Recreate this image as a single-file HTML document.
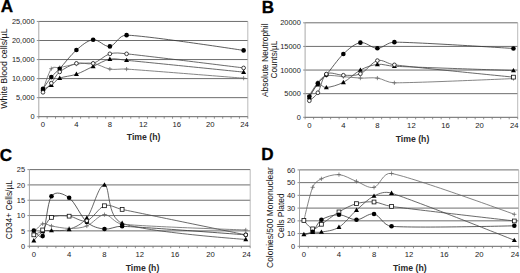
<!DOCTYPE html>
<html><head><meta charset="utf-8"><style>
html,body{margin:0;padding:0;background:#fff;width:520px;height:273px;overflow:hidden}
svg{display:block;font-family:"Liberation Sans", sans-serif}
</style></head><body>
<svg width="520" height="273" viewBox="0 0 520 273">
<rect width="520" height="273" fill="#fff"/>
<line x1="38.80" y1="97.65" x2="247.80" y2="97.65" stroke="#6e6e6e" stroke-width="1"/>
<line x1="38.80" y1="78.60" x2="247.80" y2="78.60" stroke="#6e6e6e" stroke-width="1"/>
<line x1="38.80" y1="59.55" x2="247.80" y2="59.55" stroke="#6e6e6e" stroke-width="1"/>
<line x1="38.80" y1="40.50" x2="247.80" y2="40.50" stroke="#6e6e6e" stroke-width="1"/>
<line x1="38.80" y1="21.45" x2="247.80" y2="21.45" stroke="#6e6e6e" stroke-width="1"/>
<line x1="247.80" y1="21.45" x2="247.80" y2="116.70" stroke="#aaa" stroke-width="0.8"/>
<line x1="38.80" y1="21.45" x2="38.80" y2="116.70" stroke="#a8a8a8" stroke-width="1"/>
<line x1="36.80" y1="116.70" x2="38.80" y2="116.70" stroke="#777" stroke-width="0.8"/>
<text x="34.50" y="119.35" text-anchor="end" font-size="7.4" fill="#1a1a1a">0</text>
<line x1="36.80" y1="97.65" x2="38.80" y2="97.65" stroke="#777" stroke-width="0.8"/>
<text x="34.50" y="100.30" text-anchor="end" font-size="7.4" fill="#1a1a1a">5,000</text>
<line x1="36.80" y1="78.60" x2="38.80" y2="78.60" stroke="#777" stroke-width="0.8"/>
<text x="34.50" y="81.25" text-anchor="end" font-size="7.4" fill="#1a1a1a">10,000</text>
<line x1="36.80" y1="59.55" x2="38.80" y2="59.55" stroke="#777" stroke-width="0.8"/>
<text x="34.50" y="62.20" text-anchor="end" font-size="7.4" fill="#1a1a1a">15,000</text>
<line x1="36.80" y1="40.50" x2="38.80" y2="40.50" stroke="#777" stroke-width="0.8"/>
<text x="34.50" y="43.15" text-anchor="end" font-size="7.4" fill="#1a1a1a">20,000</text>
<line x1="36.80" y1="21.45" x2="38.80" y2="21.45" stroke="#777" stroke-width="0.8"/>
<text x="34.50" y="24.10" text-anchor="end" font-size="7.4" fill="#1a1a1a">25,000</text>
<line x1="38.80" y1="116.70" x2="247.80" y2="116.70" stroke="#666" stroke-width="1"/>
<line x1="38.80" y1="116.70" x2="38.80" y2="118.70" stroke="#777" stroke-width="0.8"/>
<line x1="47.16" y1="116.70" x2="47.16" y2="118.70" stroke="#777" stroke-width="0.8"/>
<line x1="55.52" y1="116.70" x2="55.52" y2="118.70" stroke="#777" stroke-width="0.8"/>
<line x1="63.88" y1="116.70" x2="63.88" y2="118.70" stroke="#777" stroke-width="0.8"/>
<line x1="72.24" y1="116.70" x2="72.24" y2="118.70" stroke="#777" stroke-width="0.8"/>
<line x1="80.60" y1="116.70" x2="80.60" y2="118.70" stroke="#777" stroke-width="0.8"/>
<line x1="88.96" y1="116.70" x2="88.96" y2="118.70" stroke="#777" stroke-width="0.8"/>
<line x1="97.32" y1="116.70" x2="97.32" y2="118.70" stroke="#777" stroke-width="0.8"/>
<line x1="105.68" y1="116.70" x2="105.68" y2="118.70" stroke="#777" stroke-width="0.8"/>
<line x1="114.04" y1="116.70" x2="114.04" y2="118.70" stroke="#777" stroke-width="0.8"/>
<line x1="122.40" y1="116.70" x2="122.40" y2="118.70" stroke="#777" stroke-width="0.8"/>
<line x1="130.76" y1="116.70" x2="130.76" y2="118.70" stroke="#777" stroke-width="0.8"/>
<line x1="139.12" y1="116.70" x2="139.12" y2="118.70" stroke="#777" stroke-width="0.8"/>
<line x1="147.48" y1="116.70" x2="147.48" y2="118.70" stroke="#777" stroke-width="0.8"/>
<line x1="155.84" y1="116.70" x2="155.84" y2="118.70" stroke="#777" stroke-width="0.8"/>
<line x1="164.20" y1="116.70" x2="164.20" y2="118.70" stroke="#777" stroke-width="0.8"/>
<line x1="172.56" y1="116.70" x2="172.56" y2="118.70" stroke="#777" stroke-width="0.8"/>
<line x1="180.92" y1="116.70" x2="180.92" y2="118.70" stroke="#777" stroke-width="0.8"/>
<line x1="189.28" y1="116.70" x2="189.28" y2="118.70" stroke="#777" stroke-width="0.8"/>
<line x1="197.64" y1="116.70" x2="197.64" y2="118.70" stroke="#777" stroke-width="0.8"/>
<line x1="206.00" y1="116.70" x2="206.00" y2="118.70" stroke="#777" stroke-width="0.8"/>
<line x1="214.36" y1="116.70" x2="214.36" y2="118.70" stroke="#777" stroke-width="0.8"/>
<line x1="222.72" y1="116.70" x2="222.72" y2="118.70" stroke="#777" stroke-width="0.8"/>
<line x1="231.08" y1="116.70" x2="231.08" y2="118.70" stroke="#777" stroke-width="0.8"/>
<line x1="239.44" y1="116.70" x2="239.44" y2="118.70" stroke="#777" stroke-width="0.8"/>
<line x1="247.80" y1="116.70" x2="247.80" y2="118.70" stroke="#777" stroke-width="0.8"/>
<text x="42.98" y="127.20" text-anchor="middle" font-size="7.7" fill="#1a1a1a">0</text>
<text x="76.42" y="127.20" text-anchor="middle" font-size="7.7" fill="#1a1a1a">4</text>
<text x="109.86" y="127.20" text-anchor="middle" font-size="7.7" fill="#1a1a1a">8</text>
<text x="143.30" y="127.20" text-anchor="middle" font-size="7.7" fill="#1a1a1a">12</text>
<text x="176.74" y="127.20" text-anchor="middle" font-size="7.7" fill="#1a1a1a">16</text>
<text x="210.18" y="127.20" text-anchor="middle" font-size="7.7" fill="#1a1a1a">20</text>
<text x="244.42" y="127.20" text-anchor="middle" font-size="7.7" fill="#1a1a1a">24</text>
<path d="M42.98,88.89 C42.98,88.89 48.55,80.44 51.34,77.08 C54.13,73.71 56.48,72.17 59.70,68.69 C63.88,64.19 70.85,54.85 76.42,50.03 C81.99,45.20 87.57,40.34 93.14,39.74 C98.71,39.13 104.29,47.17 109.86,46.41 C115.43,45.64 118.52,34.93 126.58,35.17 C148.87,35.83 243.62,50.41 243.62,50.41" fill="none" stroke="#333" stroke-width="0.8"/>
<path d="M42.98,92.32 C42.98,92.32 48.55,86.57 51.34,83.17 C54.13,79.77 55.52,75.23 59.70,71.93 C63.88,68.63 70.85,64.79 76.42,63.36 C81.99,61.93 87.57,64.95 93.14,63.36 C98.71,61.77 104.29,55.42 109.86,53.84 C115.43,52.25 119.93,53.13 126.58,53.84 C148.87,56.18 243.62,67.93 243.62,67.93" fill="none" stroke="#444" stroke-width="0.8"/>
<path d="M42.98,89.27 C42.98,89.27 48.55,86.92 51.34,85.08 C54.13,83.24 55.73,79.94 59.70,78.22 C63.88,76.41 70.85,76.19 76.42,74.22 C81.99,72.25 87.57,68.92 93.14,66.41 C98.71,63.90 104.29,60.19 109.86,59.17 C115.43,58.15 119.91,59.67 126.58,60.31 C148.87,62.47 243.62,72.12 243.62,72.12" fill="none" stroke="#444" stroke-width="0.8"/>
<path d="M42.98,90.03 C42.98,90.03 48.55,72.44 51.34,68.69 C53.35,65.99 56.38,68.16 59.70,67.55 C63.88,66.79 70.85,64.82 76.42,64.12 C81.99,63.42 87.57,62.53 93.14,63.36 C98.71,64.19 104.29,68.12 109.86,69.08 C115.43,70.03 119.91,68.62 126.58,69.08 C148.87,70.60 243.62,78.22 243.62,78.22" fill="none" stroke="#666" stroke-width="0.8"/>
<path d="M40.88,90.03 H45.08 M42.98,87.93 V92.13" stroke="#666" stroke-width="0.75"/>
<path d="M49.24,68.69 H53.44 M51.34,66.59 V70.79" stroke="#666" stroke-width="0.75"/>
<path d="M57.60,67.55 H61.80 M59.70,65.45 V69.65" stroke="#666" stroke-width="0.75"/>
<path d="M74.32,64.12 H78.52 M76.42,62.02 V66.22" stroke="#666" stroke-width="0.75"/>
<path d="M91.04,63.36 H95.24 M93.14,61.26 V65.46" stroke="#666" stroke-width="0.75"/>
<path d="M107.76,69.08 H111.96 M109.86,66.98 V71.17" stroke="#666" stroke-width="0.75"/>
<path d="M124.48,69.08 H128.68 M126.58,66.98 V71.17" stroke="#666" stroke-width="0.75"/>
<path d="M241.52,78.22 H245.72 M243.62,76.12 V80.32" stroke="#666" stroke-width="0.75"/>
<path d="M42.98,86.67 L45.48,91.07 L40.48,91.07 Z" fill="#000"/>
<path d="M51.34,82.48 L53.84,86.88 L48.84,86.88 Z" fill="#000"/>
<path d="M59.70,75.62 L62.20,80.02 L57.20,80.02 Z" fill="#000"/>
<path d="M76.42,71.62 L78.92,76.02 L73.92,76.02 Z" fill="#000"/>
<path d="M93.14,63.81 L95.64,68.21 L90.64,68.21 Z" fill="#000"/>
<path d="M109.86,56.57 L112.36,60.97 L107.36,60.97 Z" fill="#000"/>
<path d="M126.58,57.71 L129.08,62.11 L124.08,62.11 Z" fill="#000"/>
<path d="M243.62,69.52 L246.12,73.92 L241.12,73.92 Z" fill="#000"/>
<circle cx="42.98" cy="88.89" r="2.3" fill="#000"/>
<circle cx="51.34" cy="77.08" r="2.3" fill="#000"/>
<circle cx="59.70" cy="68.69" r="2.3" fill="#000"/>
<circle cx="76.42" cy="50.03" r="2.3" fill="#000"/>
<circle cx="93.14" cy="39.74" r="2.3" fill="#000"/>
<circle cx="109.86" cy="46.41" r="2.3" fill="#000"/>
<circle cx="126.58" cy="35.17" r="2.3" fill="#000"/>
<circle cx="243.62" cy="50.41" r="2.3" fill="#000"/>
<circle cx="42.98" cy="92.32" r="1.85" fill="#fff" stroke="#111" stroke-width="0.8"/>
<circle cx="51.34" cy="83.17" r="1.85" fill="#fff" stroke="#111" stroke-width="0.8"/>
<circle cx="59.70" cy="71.93" r="1.85" fill="#fff" stroke="#111" stroke-width="0.8"/>
<circle cx="76.42" cy="63.36" r="1.85" fill="#fff" stroke="#111" stroke-width="0.8"/>
<circle cx="93.14" cy="63.36" r="1.85" fill="#fff" stroke="#111" stroke-width="0.8"/>
<circle cx="109.86" cy="53.84" r="1.85" fill="#fff" stroke="#111" stroke-width="0.8"/>
<circle cx="126.58" cy="53.84" r="1.85" fill="#fff" stroke="#111" stroke-width="0.8"/>
<circle cx="243.62" cy="67.93" r="1.85" fill="#fff" stroke="#111" stroke-width="0.8"/>
<line x1="305.10" y1="93.67" x2="517.70" y2="93.67" stroke="#6e6e6e" stroke-width="1"/>
<line x1="305.10" y1="70.05" x2="517.70" y2="70.05" stroke="#6e6e6e" stroke-width="1"/>
<line x1="305.10" y1="46.42" x2="517.70" y2="46.42" stroke="#6e6e6e" stroke-width="1"/>
<line x1="305.10" y1="22.80" x2="517.70" y2="22.80" stroke="#6e6e6e" stroke-width="1"/>
<line x1="517.70" y1="22.80" x2="517.70" y2="117.30" stroke="#aaa" stroke-width="0.8"/>
<line x1="305.10" y1="22.80" x2="305.10" y2="117.30" stroke="#a8a8a8" stroke-width="1"/>
<line x1="303.10" y1="117.30" x2="305.10" y2="117.30" stroke="#777" stroke-width="0.8"/>
<text x="300.80" y="119.95" text-anchor="end" font-size="7.4" fill="#1a1a1a">0</text>
<line x1="303.10" y1="93.67" x2="305.10" y2="93.67" stroke="#777" stroke-width="0.8"/>
<text x="300.80" y="96.33" text-anchor="end" font-size="7.4" fill="#1a1a1a">5000</text>
<line x1="303.10" y1="70.05" x2="305.10" y2="70.05" stroke="#777" stroke-width="0.8"/>
<text x="300.80" y="72.70" text-anchor="end" font-size="7.4" fill="#1a1a1a">10000</text>
<line x1="303.10" y1="46.42" x2="305.10" y2="46.42" stroke="#777" stroke-width="0.8"/>
<text x="300.80" y="49.07" text-anchor="end" font-size="7.4" fill="#1a1a1a">15000</text>
<line x1="303.10" y1="22.80" x2="305.10" y2="22.80" stroke="#777" stroke-width="0.8"/>
<text x="300.80" y="25.45" text-anchor="end" font-size="7.4" fill="#1a1a1a">20000</text>
<line x1="305.10" y1="117.30" x2="517.70" y2="117.30" stroke="#666" stroke-width="1"/>
<line x1="305.10" y1="117.30" x2="305.10" y2="119.30" stroke="#777" stroke-width="0.8"/>
<line x1="313.60" y1="117.30" x2="313.60" y2="119.30" stroke="#777" stroke-width="0.8"/>
<line x1="322.11" y1="117.30" x2="322.11" y2="119.30" stroke="#777" stroke-width="0.8"/>
<line x1="330.61" y1="117.30" x2="330.61" y2="119.30" stroke="#777" stroke-width="0.8"/>
<line x1="339.12" y1="117.30" x2="339.12" y2="119.30" stroke="#777" stroke-width="0.8"/>
<line x1="347.62" y1="117.30" x2="347.62" y2="119.30" stroke="#777" stroke-width="0.8"/>
<line x1="356.12" y1="117.30" x2="356.12" y2="119.30" stroke="#777" stroke-width="0.8"/>
<line x1="364.63" y1="117.30" x2="364.63" y2="119.30" stroke="#777" stroke-width="0.8"/>
<line x1="373.13" y1="117.30" x2="373.13" y2="119.30" stroke="#777" stroke-width="0.8"/>
<line x1="381.64" y1="117.30" x2="381.64" y2="119.30" stroke="#777" stroke-width="0.8"/>
<line x1="390.14" y1="117.30" x2="390.14" y2="119.30" stroke="#777" stroke-width="0.8"/>
<line x1="398.64" y1="117.30" x2="398.64" y2="119.30" stroke="#777" stroke-width="0.8"/>
<line x1="407.15" y1="117.30" x2="407.15" y2="119.30" stroke="#777" stroke-width="0.8"/>
<line x1="415.65" y1="117.30" x2="415.65" y2="119.30" stroke="#777" stroke-width="0.8"/>
<line x1="424.16" y1="117.30" x2="424.16" y2="119.30" stroke="#777" stroke-width="0.8"/>
<line x1="432.66" y1="117.30" x2="432.66" y2="119.30" stroke="#777" stroke-width="0.8"/>
<line x1="441.16" y1="117.30" x2="441.16" y2="119.30" stroke="#777" stroke-width="0.8"/>
<line x1="449.67" y1="117.30" x2="449.67" y2="119.30" stroke="#777" stroke-width="0.8"/>
<line x1="458.17" y1="117.30" x2="458.17" y2="119.30" stroke="#777" stroke-width="0.8"/>
<line x1="466.68" y1="117.30" x2="466.68" y2="119.30" stroke="#777" stroke-width="0.8"/>
<line x1="475.18" y1="117.30" x2="475.18" y2="119.30" stroke="#777" stroke-width="0.8"/>
<line x1="483.68" y1="117.30" x2="483.68" y2="119.30" stroke="#777" stroke-width="0.8"/>
<line x1="492.19" y1="117.30" x2="492.19" y2="119.30" stroke="#777" stroke-width="0.8"/>
<line x1="500.69" y1="117.30" x2="500.69" y2="119.30" stroke="#777" stroke-width="0.8"/>
<line x1="509.20" y1="117.30" x2="509.20" y2="119.30" stroke="#777" stroke-width="0.8"/>
<line x1="517.70" y1="117.30" x2="517.70" y2="119.30" stroke="#777" stroke-width="0.8"/>
<text x="309.35" y="127.80" text-anchor="middle" font-size="7.7" fill="#1a1a1a">0</text>
<text x="343.37" y="127.80" text-anchor="middle" font-size="7.7" fill="#1a1a1a">4</text>
<text x="377.38" y="127.80" text-anchor="middle" font-size="7.7" fill="#1a1a1a">8</text>
<text x="411.40" y="127.80" text-anchor="middle" font-size="7.7" fill="#1a1a1a">12</text>
<text x="445.42" y="127.80" text-anchor="middle" font-size="7.7" fill="#1a1a1a">16</text>
<text x="479.43" y="127.80" text-anchor="middle" font-size="7.7" fill="#1a1a1a">20</text>
<text x="514.25" y="127.80" text-anchor="middle" font-size="7.7" fill="#1a1a1a">24</text>
<path d="M309.35,96.51 C309.35,96.51 315.02,86.90 317.86,83.28 C320.69,79.66 323.20,78.40 326.36,74.78 C330.61,69.89 337.70,59.34 343.37,53.98 C349.04,48.63 354.71,43.59 360.38,42.64 C366.05,41.70 371.71,48.39 377.38,48.31 C383.05,48.24 387.16,42.16 394.39,42.17 C417.07,42.20 513.45,48.50 513.45,48.50" fill="none" stroke="#333" stroke-width="0.8"/>
<path d="M309.35,100.76 C309.35,100.76 315.34,96.68 317.86,92.73 C320.69,88.28 322.11,76.98 326.36,74.07 C330.61,71.15 337.70,75.29 343.37,75.25 C349.04,75.21 354.71,76.27 360.38,73.83 C366.05,71.39 371.71,62.10 377.38,60.60 C383.05,59.10 387.43,64.01 394.39,64.85 C417.07,67.61 513.45,77.14 513.45,77.14" fill="none" stroke="#444" stroke-width="0.8"/>
<path d="M309.35,97.45 C309.35,97.45 315.02,86.35 317.86,84.70 C320.69,83.04 322.79,87.86 326.36,87.53 C330.61,87.14 337.70,85.25 343.37,82.33 C349.04,79.42 354.71,73.04 360.38,70.05 C366.05,67.06 371.71,65.01 377.38,64.38 C383.05,63.75 387.55,65.96 394.39,66.27 C417.07,67.29 513.45,70.52 513.45,70.52" fill="none" stroke="#444" stroke-width="0.8"/>
<path d="M309.35,95.56 C309.35,95.56 315.02,85.64 317.86,82.33 C320.66,79.06 322.15,76.65 326.36,75.72 C330.61,74.78 337.70,76.27 343.37,76.66 C349.04,77.06 354.71,77.85 360.38,78.08 C366.05,78.32 371.71,77.30 377.38,78.08 C383.05,78.87 387.33,82.78 394.39,82.81 C417.07,82.89 513.45,78.56 513.45,78.56" fill="none" stroke="#666" stroke-width="0.8"/>
<path d="M307.25,95.56 H311.45 M309.35,93.47 V97.66" stroke="#666" stroke-width="0.75"/>
<path d="M315.76,82.33 H319.96 M317.86,80.23 V84.43" stroke="#666" stroke-width="0.75"/>
<path d="M324.26,75.72 H328.46 M326.36,73.62 V77.82" stroke="#666" stroke-width="0.75"/>
<path d="M341.27,76.66 H345.47 M343.37,74.56 V78.76" stroke="#666" stroke-width="0.75"/>
<path d="M358.28,78.08 H362.48 M360.38,75.98 V80.18" stroke="#666" stroke-width="0.75"/>
<path d="M375.28,78.08 H379.48 M377.38,75.98 V80.18" stroke="#666" stroke-width="0.75"/>
<path d="M392.29,82.81 H396.49 M394.39,80.71 V84.91" stroke="#666" stroke-width="0.75"/>
<path d="M511.35,78.56 H515.55 M513.45,76.46 V80.66" stroke="#666" stroke-width="0.75"/>
<path d="M309.35,94.86 L311.85,99.25 L306.85,99.25 Z" fill="#000"/>
<path d="M317.86,82.10 L320.36,86.50 L315.36,86.50 Z" fill="#000"/>
<path d="M326.36,84.93 L328.86,89.33 L323.86,89.33 Z" fill="#000"/>
<path d="M343.37,79.73 L345.87,84.13 L340.87,84.13 Z" fill="#000"/>
<path d="M360.38,67.45 L362.88,71.85 L357.88,71.85 Z" fill="#000"/>
<path d="M377.38,61.78 L379.88,66.18 L374.88,66.18 Z" fill="#000"/>
<path d="M394.39,63.67 L396.89,68.07 L391.89,68.07 Z" fill="#000"/>
<path d="M513.45,67.92 L515.95,72.32 L510.95,72.32 Z" fill="#000"/>
<circle cx="309.35" cy="96.51" r="2.3" fill="#000"/>
<circle cx="317.86" cy="83.28" r="2.3" fill="#000"/>
<circle cx="326.36" cy="74.78" r="2.3" fill="#000"/>
<circle cx="343.37" cy="53.98" r="2.3" fill="#000"/>
<circle cx="360.38" cy="42.64" r="2.3" fill="#000"/>
<circle cx="377.38" cy="48.31" r="2.3" fill="#000"/>
<circle cx="394.39" cy="42.17" r="2.3" fill="#000"/>
<circle cx="513.45" cy="48.50" r="2.3" fill="#000"/>
<circle cx="309.35" cy="100.76" r="1.85" fill="#fff" stroke="#111" stroke-width="0.8"/>
<circle cx="317.86" cy="92.73" r="1.85" fill="#fff" stroke="#111" stroke-width="0.8"/>
<circle cx="326.36" cy="74.07" r="1.85" fill="#fff" stroke="#111" stroke-width="0.8"/>
<circle cx="343.37" cy="75.25" r="1.85" fill="#fff" stroke="#111" stroke-width="0.8"/>
<circle cx="360.38" cy="73.83" r="1.85" fill="#fff" stroke="#111" stroke-width="0.8"/>
<circle cx="377.38" cy="60.60" r="1.85" fill="#fff" stroke="#111" stroke-width="0.8"/>
<circle cx="394.39" cy="64.85" r="1.85" fill="#fff" stroke="#111" stroke-width="0.8"/>
<rect x="511.55" y="75.24" width="3.8" height="3.8" fill="#fff" stroke="#111" stroke-width="0.8"/>
<line x1="29.40" y1="230.88" x2="250.20" y2="230.88" stroke="#6e6e6e" stroke-width="1"/>
<line x1="29.40" y1="215.56" x2="250.20" y2="215.56" stroke="#6e6e6e" stroke-width="1"/>
<line x1="29.40" y1="200.24" x2="250.20" y2="200.24" stroke="#6e6e6e" stroke-width="1"/>
<line x1="29.40" y1="184.92" x2="250.20" y2="184.92" stroke="#6e6e6e" stroke-width="1"/>
<line x1="29.40" y1="169.60" x2="250.20" y2="169.60" stroke="#6e6e6e" stroke-width="1"/>
<line x1="250.20" y1="169.60" x2="250.20" y2="246.20" stroke="#aaa" stroke-width="0.8"/>
<line x1="29.40" y1="169.60" x2="29.40" y2="246.20" stroke="#a8a8a8" stroke-width="1"/>
<line x1="27.40" y1="246.20" x2="29.40" y2="246.20" stroke="#777" stroke-width="0.8"/>
<text x="25.10" y="248.85" text-anchor="end" font-size="7.4" fill="#1a1a1a">0</text>
<line x1="27.40" y1="230.88" x2="29.40" y2="230.88" stroke="#777" stroke-width="0.8"/>
<text x="25.10" y="233.53" text-anchor="end" font-size="7.4" fill="#1a1a1a">5</text>
<line x1="27.40" y1="215.56" x2="29.40" y2="215.56" stroke="#777" stroke-width="0.8"/>
<text x="25.10" y="218.21" text-anchor="end" font-size="7.4" fill="#1a1a1a">10</text>
<line x1="27.40" y1="200.24" x2="29.40" y2="200.24" stroke="#777" stroke-width="0.8"/>
<text x="25.10" y="202.89" text-anchor="end" font-size="7.4" fill="#1a1a1a">15</text>
<line x1="27.40" y1="184.92" x2="29.40" y2="184.92" stroke="#777" stroke-width="0.8"/>
<text x="25.10" y="187.57" text-anchor="end" font-size="7.4" fill="#1a1a1a">20</text>
<line x1="27.40" y1="169.60" x2="29.40" y2="169.60" stroke="#777" stroke-width="0.8"/>
<text x="25.10" y="172.25" text-anchor="end" font-size="7.4" fill="#1a1a1a">25</text>
<line x1="29.40" y1="246.20" x2="250.20" y2="246.20" stroke="#666" stroke-width="1"/>
<line x1="29.40" y1="246.20" x2="29.40" y2="248.20" stroke="#777" stroke-width="0.8"/>
<line x1="38.23" y1="246.20" x2="38.23" y2="248.20" stroke="#777" stroke-width="0.8"/>
<line x1="47.06" y1="246.20" x2="47.06" y2="248.20" stroke="#777" stroke-width="0.8"/>
<line x1="55.90" y1="246.20" x2="55.90" y2="248.20" stroke="#777" stroke-width="0.8"/>
<line x1="64.73" y1="246.20" x2="64.73" y2="248.20" stroke="#777" stroke-width="0.8"/>
<line x1="73.56" y1="246.20" x2="73.56" y2="248.20" stroke="#777" stroke-width="0.8"/>
<line x1="82.39" y1="246.20" x2="82.39" y2="248.20" stroke="#777" stroke-width="0.8"/>
<line x1="91.22" y1="246.20" x2="91.22" y2="248.20" stroke="#777" stroke-width="0.8"/>
<line x1="100.06" y1="246.20" x2="100.06" y2="248.20" stroke="#777" stroke-width="0.8"/>
<line x1="108.89" y1="246.20" x2="108.89" y2="248.20" stroke="#777" stroke-width="0.8"/>
<line x1="117.72" y1="246.20" x2="117.72" y2="248.20" stroke="#777" stroke-width="0.8"/>
<line x1="126.55" y1="246.20" x2="126.55" y2="248.20" stroke="#777" stroke-width="0.8"/>
<line x1="135.38" y1="246.20" x2="135.38" y2="248.20" stroke="#777" stroke-width="0.8"/>
<line x1="144.22" y1="246.20" x2="144.22" y2="248.20" stroke="#777" stroke-width="0.8"/>
<line x1="153.05" y1="246.20" x2="153.05" y2="248.20" stroke="#777" stroke-width="0.8"/>
<line x1="161.88" y1="246.20" x2="161.88" y2="248.20" stroke="#777" stroke-width="0.8"/>
<line x1="170.71" y1="246.20" x2="170.71" y2="248.20" stroke="#777" stroke-width="0.8"/>
<line x1="179.54" y1="246.20" x2="179.54" y2="248.20" stroke="#777" stroke-width="0.8"/>
<line x1="188.38" y1="246.20" x2="188.38" y2="248.20" stroke="#777" stroke-width="0.8"/>
<line x1="197.21" y1="246.20" x2="197.21" y2="248.20" stroke="#777" stroke-width="0.8"/>
<line x1="206.04" y1="246.20" x2="206.04" y2="248.20" stroke="#777" stroke-width="0.8"/>
<line x1="214.87" y1="246.20" x2="214.87" y2="248.20" stroke="#777" stroke-width="0.8"/>
<line x1="223.70" y1="246.20" x2="223.70" y2="248.20" stroke="#777" stroke-width="0.8"/>
<line x1="232.54" y1="246.20" x2="232.54" y2="248.20" stroke="#777" stroke-width="0.8"/>
<line x1="241.37" y1="246.20" x2="241.37" y2="248.20" stroke="#777" stroke-width="0.8"/>
<line x1="250.20" y1="246.20" x2="250.20" y2="248.20" stroke="#777" stroke-width="0.8"/>
<text x="33.82" y="256.70" text-anchor="middle" font-size="7.7" fill="#1a1a1a">0</text>
<text x="69.14" y="256.70" text-anchor="middle" font-size="7.7" fill="#1a1a1a">4</text>
<text x="104.47" y="256.70" text-anchor="middle" font-size="7.7" fill="#1a1a1a">8</text>
<text x="139.80" y="256.70" text-anchor="middle" font-size="7.7" fill="#1a1a1a">12</text>
<text x="175.13" y="256.70" text-anchor="middle" font-size="7.7" fill="#1a1a1a">16</text>
<text x="210.46" y="256.70" text-anchor="middle" font-size="7.7" fill="#1a1a1a">20</text>
<text x="246.58" y="256.70" text-anchor="middle" font-size="7.7" fill="#1a1a1a">24</text>
<path d="M33.82,230.57 C33.82,230.57 40.74,239.79 42.65,236.09 C45.59,230.37 47.06,202.64 51.48,196.26 C55.51,190.42 63.41,193.61 69.14,197.79 C75.03,202.08 80.92,216.79 86.81,221.99 C92.51,227.03 98.58,228.33 104.47,229.04 C110.36,229.76 114.99,225.99 122.14,226.28 C145.69,227.25 245.78,234.86 245.78,234.86" fill="none" stroke="#333" stroke-width="0.8"/>
<path d="M33.82,234.86 C33.82,234.86 39.77,232.80 42.65,229.96 C45.59,227.05 47.06,219.70 51.48,217.40 C55.90,215.10 63.26,215.61 69.14,216.17 C75.03,216.73 80.92,222.51 86.81,220.77 C92.70,219.03 98.58,207.64 104.47,205.76 C110.36,203.87 115.07,207.98 122.14,209.43 C145.69,214.28 245.78,234.86 245.78,234.86" fill="none" stroke="#444" stroke-width="0.8"/>
<path d="M33.82,240.68 C33.82,240.68 39.70,233.18 42.65,231.49 C45.59,229.81 47.94,230.86 51.48,230.57 C55.90,230.22 63.26,231.44 69.14,229.35 C75.03,227.25 81.58,224.58 86.81,218.01 C92.70,210.61 98.58,184.05 104.47,184.92 C110.36,185.79 106.40,217.15 122.14,223.22 C145.69,232.31 245.78,239.46 245.78,239.46" fill="none" stroke="#444" stroke-width="0.8"/>
<path d="M33.82,232.41 C33.82,232.41 39.70,224.91 42.65,223.83 C45.59,222.76 47.90,225.36 51.48,225.98 C55.90,226.74 63.26,228.43 69.14,228.43 C75.03,228.43 80.92,228.28 86.81,225.98 C92.70,223.68 98.58,214.95 104.47,214.64 C110.36,214.33 114.16,223.27 122.14,224.14 C145.69,226.69 245.78,229.96 245.78,229.96" fill="none" stroke="#666" stroke-width="0.8"/>
<path d="M31.72,232.41 H35.92 M33.82,230.31 V234.51" stroke="#666" stroke-width="0.75"/>
<path d="M40.55,223.83 H44.75 M42.65,221.73 V225.93" stroke="#666" stroke-width="0.75"/>
<path d="M49.38,225.98 H53.58 M51.48,223.88 V228.08" stroke="#666" stroke-width="0.75"/>
<path d="M67.04,228.43 H71.24 M69.14,226.33 V230.53" stroke="#666" stroke-width="0.75"/>
<path d="M84.71,225.98 H88.91 M86.81,223.88 V228.08" stroke="#666" stroke-width="0.75"/>
<path d="M102.37,214.64 H106.57 M104.47,212.54 V216.74" stroke="#666" stroke-width="0.75"/>
<path d="M120.04,224.14 H124.24 M122.14,222.04 V226.24" stroke="#666" stroke-width="0.75"/>
<path d="M243.68,229.96 H247.88 M245.78,227.86 V232.06" stroke="#666" stroke-width="0.75"/>
<path d="M33.82,238.08 L36.32,242.48 L31.32,242.48 Z" fill="#000"/>
<path d="M42.65,228.89 L45.15,233.29 L40.15,233.29 Z" fill="#000"/>
<path d="M51.48,227.97 L53.98,232.37 L48.98,232.37 Z" fill="#000"/>
<path d="M69.14,226.75 L71.64,231.15 L66.64,231.15 Z" fill="#000"/>
<path d="M86.81,215.41 L89.31,219.81 L84.31,219.81 Z" fill="#000"/>
<path d="M104.47,182.32 L106.97,186.72 L101.97,186.72 Z" fill="#000"/>
<path d="M122.14,220.62 L124.64,225.02 L119.64,225.02 Z" fill="#000"/>
<path d="M245.78,236.86 L248.28,241.26 L243.28,241.26 Z" fill="#000"/>
<circle cx="33.82" cy="230.57" r="2.3" fill="#000"/>
<circle cx="42.65" cy="236.09" r="2.3" fill="#000"/>
<circle cx="51.48" cy="196.26" r="2.3" fill="#000"/>
<circle cx="69.14" cy="197.79" r="2.3" fill="#000"/>
<circle cx="86.81" cy="221.99" r="2.3" fill="#000"/>
<circle cx="104.47" cy="229.04" r="2.3" fill="#000"/>
<circle cx="122.14" cy="226.28" r="2.3" fill="#000"/>
<circle cx="245.78" cy="234.86" r="2.3" fill="#000"/>
<rect x="31.92" y="232.96" width="3.8" height="3.8" fill="#fff" stroke="#111" stroke-width="0.8"/>
<rect x="40.75" y="228.06" width="3.8" height="3.8" fill="#fff" stroke="#111" stroke-width="0.8"/>
<rect x="49.58" y="215.50" width="3.8" height="3.8" fill="#fff" stroke="#111" stroke-width="0.8"/>
<rect x="67.24" y="214.27" width="3.8" height="3.8" fill="#fff" stroke="#111" stroke-width="0.8"/>
<circle cx="86.81" cy="220.77" r="1.85" fill="#fff" stroke="#111" stroke-width="0.8"/>
<rect x="102.57" y="203.86" width="3.8" height="3.8" fill="#fff" stroke="#111" stroke-width="0.8"/>
<rect x="120.24" y="207.53" width="3.8" height="3.8" fill="#fff" stroke="#111" stroke-width="0.8"/>
<circle cx="245.78" cy="234.86" r="1.85" fill="#fff" stroke="#111" stroke-width="0.8"/>
<line x1="299.50" y1="233.57" x2="518.70" y2="233.57" stroke="#6e6e6e" stroke-width="1"/>
<line x1="299.50" y1="220.83" x2="518.70" y2="220.83" stroke="#6e6e6e" stroke-width="1"/>
<line x1="299.50" y1="208.10" x2="518.70" y2="208.10" stroke="#6e6e6e" stroke-width="1"/>
<line x1="299.50" y1="195.37" x2="518.70" y2="195.37" stroke="#6e6e6e" stroke-width="1"/>
<line x1="299.50" y1="182.63" x2="518.70" y2="182.63" stroke="#6e6e6e" stroke-width="1"/>
<line x1="299.50" y1="169.90" x2="518.70" y2="169.90" stroke="#6e6e6e" stroke-width="1"/>
<line x1="518.70" y1="169.90" x2="518.70" y2="246.30" stroke="#aaa" stroke-width="0.8"/>
<line x1="299.50" y1="169.90" x2="299.50" y2="246.30" stroke="#a8a8a8" stroke-width="1"/>
<line x1="297.50" y1="246.30" x2="299.50" y2="246.30" stroke="#777" stroke-width="0.8"/>
<text x="295.20" y="248.95" text-anchor="end" font-size="7.4" fill="#1a1a1a">0</text>
<line x1="297.50" y1="233.57" x2="299.50" y2="233.57" stroke="#777" stroke-width="0.8"/>
<text x="295.20" y="236.22" text-anchor="end" font-size="7.4" fill="#1a1a1a">10</text>
<line x1="297.50" y1="220.83" x2="299.50" y2="220.83" stroke="#777" stroke-width="0.8"/>
<text x="295.20" y="223.48" text-anchor="end" font-size="7.4" fill="#1a1a1a">20</text>
<line x1="297.50" y1="208.10" x2="299.50" y2="208.10" stroke="#777" stroke-width="0.8"/>
<text x="295.20" y="210.75" text-anchor="end" font-size="7.4" fill="#1a1a1a">30</text>
<line x1="297.50" y1="195.37" x2="299.50" y2="195.37" stroke="#777" stroke-width="0.8"/>
<text x="295.20" y="198.02" text-anchor="end" font-size="7.4" fill="#1a1a1a">40</text>
<line x1="297.50" y1="182.63" x2="299.50" y2="182.63" stroke="#777" stroke-width="0.8"/>
<text x="295.20" y="185.28" text-anchor="end" font-size="7.4" fill="#1a1a1a">50</text>
<line x1="297.50" y1="169.90" x2="299.50" y2="169.90" stroke="#777" stroke-width="0.8"/>
<text x="295.20" y="172.55" text-anchor="end" font-size="7.4" fill="#1a1a1a">60</text>
<line x1="299.50" y1="246.30" x2="518.70" y2="246.30" stroke="#666" stroke-width="1"/>
<line x1="299.50" y1="246.30" x2="299.50" y2="248.30" stroke="#777" stroke-width="0.8"/>
<line x1="308.27" y1="246.30" x2="308.27" y2="248.30" stroke="#777" stroke-width="0.8"/>
<line x1="317.04" y1="246.30" x2="317.04" y2="248.30" stroke="#777" stroke-width="0.8"/>
<line x1="325.80" y1="246.30" x2="325.80" y2="248.30" stroke="#777" stroke-width="0.8"/>
<line x1="334.57" y1="246.30" x2="334.57" y2="248.30" stroke="#777" stroke-width="0.8"/>
<line x1="343.34" y1="246.30" x2="343.34" y2="248.30" stroke="#777" stroke-width="0.8"/>
<line x1="352.11" y1="246.30" x2="352.11" y2="248.30" stroke="#777" stroke-width="0.8"/>
<line x1="360.88" y1="246.30" x2="360.88" y2="248.30" stroke="#777" stroke-width="0.8"/>
<line x1="369.64" y1="246.30" x2="369.64" y2="248.30" stroke="#777" stroke-width="0.8"/>
<line x1="378.41" y1="246.30" x2="378.41" y2="248.30" stroke="#777" stroke-width="0.8"/>
<line x1="387.18" y1="246.30" x2="387.18" y2="248.30" stroke="#777" stroke-width="0.8"/>
<line x1="395.95" y1="246.30" x2="395.95" y2="248.30" stroke="#777" stroke-width="0.8"/>
<line x1="404.72" y1="246.30" x2="404.72" y2="248.30" stroke="#777" stroke-width="0.8"/>
<line x1="413.48" y1="246.30" x2="413.48" y2="248.30" stroke="#777" stroke-width="0.8"/>
<line x1="422.25" y1="246.30" x2="422.25" y2="248.30" stroke="#777" stroke-width="0.8"/>
<line x1="431.02" y1="246.30" x2="431.02" y2="248.30" stroke="#777" stroke-width="0.8"/>
<line x1="439.79" y1="246.30" x2="439.79" y2="248.30" stroke="#777" stroke-width="0.8"/>
<line x1="448.56" y1="246.30" x2="448.56" y2="248.30" stroke="#777" stroke-width="0.8"/>
<line x1="457.32" y1="246.30" x2="457.32" y2="248.30" stroke="#777" stroke-width="0.8"/>
<line x1="466.09" y1="246.30" x2="466.09" y2="248.30" stroke="#777" stroke-width="0.8"/>
<line x1="474.86" y1="246.30" x2="474.86" y2="248.30" stroke="#777" stroke-width="0.8"/>
<line x1="483.63" y1="246.30" x2="483.63" y2="248.30" stroke="#777" stroke-width="0.8"/>
<line x1="492.40" y1="246.30" x2="492.40" y2="248.30" stroke="#777" stroke-width="0.8"/>
<line x1="501.16" y1="246.30" x2="501.16" y2="248.30" stroke="#777" stroke-width="0.8"/>
<line x1="509.93" y1="246.30" x2="509.93" y2="248.30" stroke="#777" stroke-width="0.8"/>
<line x1="518.70" y1="246.30" x2="518.70" y2="248.30" stroke="#777" stroke-width="0.8"/>
<text x="303.88" y="256.80" text-anchor="middle" font-size="7.7" fill="#1a1a1a">0</text>
<text x="338.96" y="256.80" text-anchor="middle" font-size="7.7" fill="#1a1a1a">4</text>
<text x="374.03" y="256.80" text-anchor="middle" font-size="7.7" fill="#1a1a1a">8</text>
<text x="409.10" y="256.80" text-anchor="middle" font-size="7.7" fill="#1a1a1a">12</text>
<text x="444.17" y="256.80" text-anchor="middle" font-size="7.7" fill="#1a1a1a">16</text>
<text x="479.24" y="256.80" text-anchor="middle" font-size="7.7" fill="#1a1a1a">20</text>
<text x="515.12" y="256.80" text-anchor="middle" font-size="7.7" fill="#1a1a1a">24</text>
<path d="M303.88,234.46 C303.88,234.46 309.84,234.13 312.65,231.78 C315.57,229.34 317.04,222.66 321.42,219.81 C325.80,216.97 333.11,214.72 338.96,214.72 C344.80,214.72 350.65,219.94 356.49,219.81 C362.34,219.69 368.18,212.88 374.03,213.96 C379.87,215.04 383.01,225.59 391.56,226.31 C414.95,228.28 514.32,225.80 514.32,225.80" fill="none" stroke="#333" stroke-width="0.8"/>
<path d="M303.88,220.45 C303.88,220.45 309.73,228.22 312.65,228.86 C315.57,229.49 318.09,226.41 321.42,224.27 C325.80,221.45 333.11,215.36 338.96,211.92 C344.80,208.48 350.65,205.30 356.49,203.64 C362.34,201.99 368.18,201.52 374.03,201.99 C379.87,202.45 384.39,205.47 391.56,206.44 C414.95,209.61 514.32,220.96 514.32,220.96" fill="none" stroke="#444" stroke-width="0.8"/>
<path d="M303.88,234.46 C303.88,234.46 309.73,232.70 312.65,232.29 C315.57,231.89 317.98,232.71 321.42,232.04 C325.80,231.19 333.11,230.85 338.96,227.20 C344.80,223.55 350.65,215.34 356.49,210.14 C362.34,204.94 368.18,198.83 374.03,196.00 C379.87,193.18 384.79,191.07 391.56,193.20 C414.95,200.58 514.32,240.25 514.32,240.25" fill="none" stroke="#444" stroke-width="0.8"/>
<path d="M303.88,220.83 C303.88,220.83 309.73,194.35 312.65,187.34 C314.54,182.83 317.04,180.94 321.42,178.81 C325.80,176.69 333.11,174.19 338.96,174.61 C344.80,175.04 350.65,179.24 356.49,181.36 C362.34,183.48 368.18,188.66 374.03,187.34 C379.87,186.03 382.78,171.78 391.56,173.47 C414.95,177.96 514.32,214.34 514.32,214.34" fill="none" stroke="#666" stroke-width="0.8"/>
<path d="M301.78,220.83 H305.98 M303.88,218.73 V222.93" stroke="#666" stroke-width="0.75"/>
<path d="M310.55,187.34 H314.75 M312.65,185.24 V189.44" stroke="#666" stroke-width="0.75"/>
<path d="M319.32,178.81 H323.52 M321.42,176.71 V180.91" stroke="#666" stroke-width="0.75"/>
<path d="M336.86,174.61 H341.06 M338.96,172.51 V176.71" stroke="#666" stroke-width="0.75"/>
<path d="M354.39,181.36 H358.59 M356.49,179.26 V183.46" stroke="#666" stroke-width="0.75"/>
<path d="M371.93,187.34 H376.13 M374.03,185.24 V189.44" stroke="#666" stroke-width="0.75"/>
<path d="M389.46,173.47 H393.66 M391.56,171.37 V175.57" stroke="#666" stroke-width="0.75"/>
<path d="M512.22,214.34 H516.42 M514.32,212.24 V216.44" stroke="#666" stroke-width="0.75"/>
<path d="M303.88,231.86 L306.38,236.26 L301.38,236.26 Z" fill="#000"/>
<path d="M312.65,229.69 L315.15,234.09 L310.15,234.09 Z" fill="#000"/>
<path d="M321.42,229.44 L323.92,233.84 L318.92,233.84 Z" fill="#000"/>
<path d="M338.96,224.60 L341.46,229.00 L336.46,229.00 Z" fill="#000"/>
<path d="M356.49,207.54 L358.99,211.94 L353.99,211.94 Z" fill="#000"/>
<path d="M374.03,193.40 L376.53,197.80 L371.53,197.80 Z" fill="#000"/>
<path d="M391.56,190.60 L394.06,195.00 L389.06,195.00 Z" fill="#000"/>
<path d="M514.32,237.65 L516.82,242.05 L511.82,242.05 Z" fill="#000"/>
<rect x="301.98" y="218.55" width="3.8" height="3.8" fill="#fff" stroke="#111" stroke-width="0.8"/>
<rect x="310.75" y="226.96" width="3.8" height="3.8" fill="#fff" stroke="#111" stroke-width="0.8"/>
<rect x="319.52" y="222.37" width="3.8" height="3.8" fill="#fff" stroke="#111" stroke-width="0.8"/>
<rect x="337.06" y="210.02" width="3.8" height="3.8" fill="#fff" stroke="#111" stroke-width="0.8"/>
<rect x="354.59" y="201.74" width="3.8" height="3.8" fill="#fff" stroke="#111" stroke-width="0.8"/>
<rect x="372.13" y="200.09" width="3.8" height="3.8" fill="#fff" stroke="#111" stroke-width="0.8"/>
<rect x="389.66" y="204.54" width="3.8" height="3.8" fill="#fff" stroke="#111" stroke-width="0.8"/>
<rect x="512.42" y="219.06" width="3.8" height="3.8" fill="#fff" stroke="#111" stroke-width="0.8"/>
<circle cx="312.65" cy="231.78" r="2.3" fill="#000"/>
<circle cx="321.42" cy="219.81" r="2.3" fill="#000"/>
<circle cx="338.96" cy="214.72" r="2.3" fill="#000"/>
<circle cx="356.49" cy="219.81" r="2.3" fill="#000"/>
<circle cx="374.03" cy="213.96" r="2.3" fill="#000"/>
<circle cx="391.56" cy="226.31" r="2.3" fill="#000"/>
<circle cx="514.32" cy="225.80" r="2.3" fill="#000"/>

<text x="0.6" y="12.2" font-size="15.8" font-weight="bold" stroke="#000" stroke-width="0.3" transform="scale(1.08,1)">A</text>
<text x="242.4" y="12.5" font-size="15.8" font-weight="bold" stroke="#000" stroke-width="0.3" transform="scale(1.08,1)">B</text>
<text x="-0.2" y="161.0" font-size="15.8" font-weight="bold" stroke="#000" stroke-width="0.3" transform="scale(1.08,1)">C</text>
<text x="242.0" y="160.4" font-size="15.8" font-weight="bold" stroke="#000" stroke-width="0.3" transform="scale(1.08,1)">D</text>
<text transform="translate(7.2,68.6) rotate(-90)" text-anchor="middle" font-size="8.85" fill="#111">White Blood cells/&#181;L</text>
<text transform="translate(268.4,60.3) rotate(-90)" text-anchor="middle" font-size="8.45" fill="#111">Absolute Neutrophil</text>
<text transform="translate(277.3,59.5) rotate(-90)" text-anchor="middle" font-size="8.3" fill="#111">Counts/&#181;L</text>
<text transform="translate(11.6,209.6) rotate(-90)" text-anchor="middle" font-size="8.4" fill="#111">CD34+ Cells/&#181;L</text>
<text transform="translate(273.3,217.6) rotate(-90)" text-anchor="middle" font-size="8.47" fill="#111">Colonies/500 Mononuclear</text>
<text transform="translate(284.3,215.8) rotate(-90)" text-anchor="middle" font-size="8.4" fill="#111">Cells Plated</text>
<text x="143.6" y="140.1" text-anchor="middle" font-size="8.7" font-weight="bold" fill="#2a2a2a">Time (h)</text>
<text x="412.5" y="141.8" text-anchor="middle" font-size="8.7" font-weight="bold" fill="#2a2a2a">Time (h)</text>
<text x="142.5" y="270.5" text-anchor="middle" font-size="8.7" font-weight="bold" fill="#2a2a2a">Time (h)</text>
<text x="409.8" y="270.5" text-anchor="middle" font-size="8.7" font-weight="bold" fill="#2a2a2a">Time (h)</text>

</svg>
</body></html>
